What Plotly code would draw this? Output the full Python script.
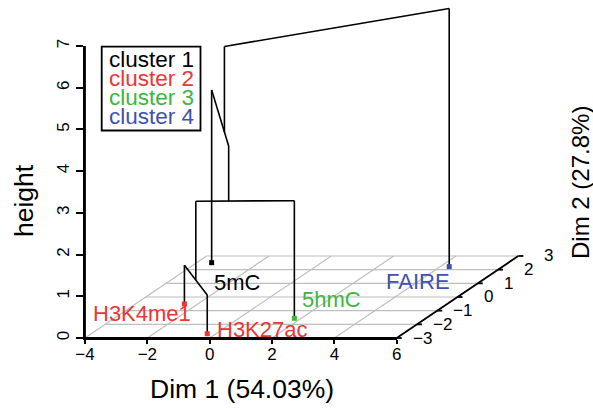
import plotly.graph_objects as go

# ---------------- data ----------------
labels = ["5mC", "H3K4me1", "H3K27ac", "5hmC", "FAIRE"]
dim1 = [-3.52, -2.43, -0.28, 1.78, 4.29]
dim2 = [2.51, -0.51, -2.69, -1.56, 2.22]
cluster = [1, 2, 2, 3, 4]
cluster_names = ["cluster 1", "cluster 2", "cluster 3", "cluster 4"]
# hclust-style merge table (negative = leaf index, 1-based; positive = earlier merge)
merge = [(-2, -3), (1, -4), (2, -1), (3, -5)]
merge_height = [0.93, 2.82, 4.14, 6.19]
dim1_ticks = [-4, -2, 0, 2, 4, 6]
dim2_ticks = [-3, -2, -1, 0, 1, 2, 3]
height_ticks = [0, 1, 2, 3, 4, 5, 6, 7]
xlab = "Dim 1 (54.03%)"
ylab = "Dim 2 (27.8%)"
zlab = "height"

# ---------------- style / layout ----------------
W, H = 593, 409
FONT = "Liberation Sans, Arial, sans-serif"
cluster_colors = ["#000000", "#EE3535", "#3DB63D", "#3F51B0"]
GRID = "#BEBEBE"
# pixel frame of the 3D box
PX_X0, PX_X1 = 85.0, 396.7     # dim1 -4 .. 6
PX_Z0, PX_Z7 = 338.0, 46.0     # height 0 .. 7
DEPTH_PX = (20.27, 13.67)      # screen shift per unit of dim2
XMIN, XMAX = dim1_ticks[0], dim1_ticks[-1]
YMIN, YMAX = dim2_ticks[0], dim2_ticks[-1]
ZMIN, ZMAX = height_ticks[0], height_ticks[-1]
SX = (PX_X1 - PX_X0) / (XMAX - XMIN)
SZ = (PX_Z0 - PX_Z7) / (ZMAX - ZMIN)
A = DEPTH_PX[0] / SX
B = DEPTH_PX[1] / SZ


def proj(x, y, z):
    return x + A * (y - YMIN), z + B * (y - YMIN)


# label placement (anchor, xshift px, yshift px)
label_style = {
    "5mC": ("left", 0, -20),
    "H3K4me1": ("right", 9, -10),
    "H3K27ac": ("left", 8, 4),
    "5hmC": ("left", 6, 19),
    "FAIRE": ("right", 3, -15),
}

fig = go.Figure()

# anchor trace so that the main (axis) subplot is drawn
fig.add_trace(go.Scatter(x=[XMIN], y=[ZMIN], mode="markers", marker=dict(opacity=0),
                         xaxis="x", yaxis="y", hoverinfo="skip", showlegend=False))

# ---- floor grid ----
gx, gy = [], []
for yv in dim2_ticks[1:]:
    for (x, y) in [proj(XMIN, yv, 0), proj(XMAX, yv, 0)]:
        gx.append(x); gy.append(y)
    gx.append(None); gy.append(None)
for xv in dim1_ticks[:-1]:
    for (x, y) in [proj(xv, YMIN, 0), proj(xv, YMAX, 0)]:
        gx.append(x); gy.append(y)
    gx.append(None); gy.append(None)
fig.add_trace(go.Scatter(x=gx, y=gy, mode="lines", line=dict(color=GRID, width=1.2),
                         xaxis="x2", yaxis="y2", hoverinfo="skip", showlegend=False))

# ---- axis lines (dim1, height, dim2) ----
ax_x, ax_y = [], []
for seg in [(proj(XMIN, YMIN, ZMIN), proj(XMAX, YMIN, ZMIN)),
            (proj(XMIN, YMIN, ZMIN), proj(XMIN, YMIN, ZMAX)),
            (proj(XMAX, YMIN, ZMIN), proj(XMAX, YMAX, ZMIN))]:
    ax_x += [seg[0][0], seg[1][0], None]; ax_y += [seg[0][1], seg[1][1], None]
for yv in dim2_ticks:
    p0 = proj(XMAX, yv, 0)
    p1 = proj(XMAX + 0.16, yv, 0)
    ax_x += [p0[0], p1[0], None]; ax_y += [p0[1], p1[1], None]
fig.add_trace(go.Scatter(x=ax_x, y=ax_y, mode="lines", line=dict(color="black", width=1.8),
                         xaxis="x2", yaxis="y2", hoverinfo="skip", showlegend=False))

# ---- dendrogram ----
def members(k):
    if k < 0:
        return [-k - 1]
    a, b = merge[k - 1]
    return members(a) + members(b)


def node(k):
    m = members(k)
    cx = sum(dim1[i] for i in m) / len(m)
    cy = sum(dim2[i] for i in m) / len(m)
    cz = 0.0 if k < 0 else merge_height[k - 1]
    return cx, cy, cz


dx, dy = [], []
for i, (a, b) in enumerate(merge):
    h = merge_height[i]
    for c in (a, b):
        cx, cy, cz = node(c)
        p0 = proj(cx, cy, cz); p1 = proj(cx, cy, h)
        dx += [p0[0], p1[0], None]; dy += [p0[1], p1[1], None]
    na, nb = node(a), node(b)
    p0 = proj(na[0], na[1], h); p1 = proj(nb[0], nb[1], h)
    dx += [p0[0], p1[0], None]; dy += [p0[1], p1[1], None]
fig.add_trace(go.Scatter(x=dx, y=dy, mode="lines", line=dict(color="black", width=1.6),
                         xaxis="x2", yaxis="y2", hoverinfo="skip", showlegend=False))

# ---- points ----
pts = [proj(dim1[i], dim2[i], 0) for i in range(len(labels))]
fig.add_trace(go.Scatter(x=[p[0] for p in pts], y=[p[1] for p in pts], mode="markers",
                         marker=dict(symbol="square", size=5,
                                     color=[cluster_colors[c - 1] for c in cluster]),
                         xaxis="x2", yaxis="y2", hoverinfo="skip", showlegend=False))

ann = []
for i, lab in enumerate(labels):
    anc, xs, ys = label_style[lab]
    ann.append(dict(x=pts[i][0], y=pts[i][1], xref="x2", yref="y2", text=lab,
                    showarrow=False, xanchor=anc, yanchor="middle", xshift=xs, yshift=ys,
                    font=dict(family=FONT, size=22, color=cluster_colors[cluster[i] - 1])))

# dim2 tick labels
for yv in dim2_ticks:
    p = proj(XMAX, yv, 0)
    ann.append(dict(x=p[0], y=p[1], xref="x2", yref="y2",
                    text=("\u2212" if yv < 0 else "") + str(abs(yv)),
                    showarrow=False, xanchor="right", yanchor="middle", xshift=37,
                    font=dict(family=FONT, size=17, color="black")))

# legend
LEG_BOX = (101.7, 46.7, 200.5, 130.5)
shapes = [dict(type="rect", xref="paper", yref="paper",
               x0=LEG_BOX[0] / W, x1=LEG_BOX[2] / W,
               y0=1 - LEG_BOX[3] / H, y1=1 - LEG_BOX[1] / H,
               line=dict(color="black", width=1.8), fillcolor="white", layer="below")]
for j, name in enumerate(cluster_names):
    ann.append(dict(x=106.5 / W, y=1 - (59.5 + 18.9 * j) / H, xref="paper", yref="paper",
                    text=name, showarrow=False, xanchor="left", yanchor="middle",
                    font=dict(family=FONT, size=22.5, color=cluster_colors[j])))

# axis titles
ann.append(dict(x=241.7 / W, y=1 - 389 / H, xref="paper", yref="paper", text=xlab,
                showarrow=False, xanchor="center", yanchor="middle",
                font=dict(family=FONT, size=26.5, color="black")))
ann.append(dict(x=24 / W, y=1 - 201 / H, xref="paper", yref="paper", text=zlab,
                showarrow=False, xanchor="center", yanchor="middle", textangle=-90,
                font=dict(family=FONT, size=26.5, color="black")))
ann.append(dict(x=580 / W, y=1 - 183 / H, xref="paper", yref="paper", text=ylab,
                showarrow=False, xanchor="center", yanchor="middle", textangle=-90,
                font=dict(family=FONT, size=24, color="black")))

x2_range = [XMIN - PX_X0 / SX, XMIN + (W - PX_X0) / SX]
y2_range = [ZMIN - (H - PX_Z0) / SZ, ZMIN + PX_Z0 / SZ]

fig.update_layout(
    width=W, height=H,
    margin=dict(l=0, r=0, t=0, b=0, pad=0),
    paper_bgcolor="white", plot_bgcolor="rgba(0,0,0,0)",
    showlegend=False,
    font=dict(family=FONT, color="black"),
    xaxis=dict(domain=[PX_X0 / W, PX_X1 / W], range=[XMIN, XMAX], anchor="y",
               tickvals=dim1_ticks, ticks="outside", ticklen=4, tickwidth=2,
               tickcolor="black", showline=True, linecolor="black", linewidth=2,
               showgrid=False, zeroline=False, tickfont=dict(size=17, family=FONT),
               ticklabelstandoff=-4,
               automargin=False, fixedrange=True),
    yaxis=dict(domain=[1 - PX_Z0 / H, 1 - PX_Z7 / H], range=[ZMIN, ZMAX], anchor="x",
               tickvals=height_ticks, ticks="outside", ticklen=7, tickwidth=2,
               tickcolor="black", showline=True, linecolor="black", linewidth=2,
               showgrid=False, zeroline=False, tickangle=-90,
               tickfont=dict(size=17, family=FONT), automargin=False, fixedrange=True),
    xaxis2=dict(domain=[0, 1], range=x2_range, anchor="y2", visible=False, fixedrange=True),
    yaxis2=dict(domain=[0, 1], range=y2_range, anchor="x2", visible=False, fixedrange=True),
    annotations=ann, shapes=shapes,
)

fig.write_html("out.html", post_script="document.body.style.margin='0';",
               config={"displayModeBar": False})
